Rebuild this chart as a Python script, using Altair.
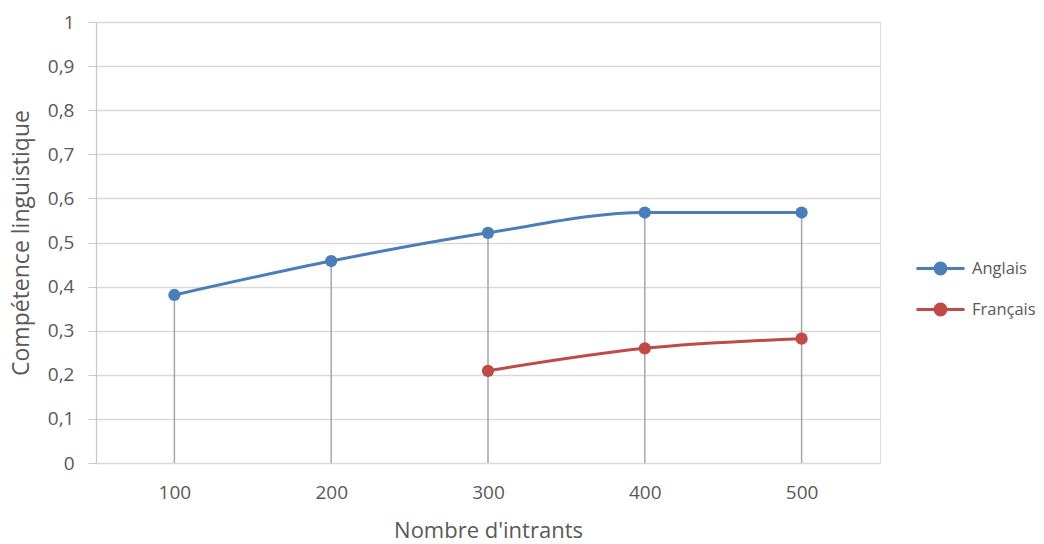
import altair as alt
import pandas as pd

categories = ["100", "200", "300", "400", "500"]
anglais = [0.381, 0.458, 0.522, 0.568, 0.568]
francais = [None, None, 0.209, 0.260, 0.282]
series_names = ["Anglais", "Français"]
colors = ["#4a7ebb", "#be4b48"]

rows = []
for c, a, f in zip(categories, anglais, francais):
    rows.append({"cat": c, "serie": "Anglais", "val": a})
    if f is not None:
        rows.append({"cat": c, "serie": "Français", "val": f})
df = pd.DataFrame(rows)
drop = pd.DataFrame({"cat": categories,
                     "top": [max(v for v in (a, f) if v is not None) for a, f in zip(anglais, francais)]})

FONT = "Open Sans"
LBL = 19
TTL = 22
xscale = alt.Scale(type="point", padding=0.5, domain=categories)
yscale = alt.Scale(domain=[0, 1])

x_enc = alt.X("cat:O", scale=xscale, sort=categories,
              axis=alt.Axis(title="Nombre d'intrants", labelAngle=0, ticks=False, domain=False,
                            grid=False, labelPadding=20, titlePadding=18,
                            labelFont=FONT, titleFont=FONT, labelFontSize=LBL, titleFontSize=TTL,
                            labelColor="#595959", titleColor="#595959", titleFontWeight="normal"))
y_axis = alt.Axis(title="Compétence linguistique", values=[i / 10 for i in range(11)],
                  labelExpr="replace(format(datum.value, '.1~f'), '.', ',')",
                  tickSize=8, tickColor="#c8c8c8", domainColor="#c8c8c8", domainWidth=1.3,
                  gridColor="#d9d9d9", gridWidth=1.3, labelPadding=14, titlePadding=14,
                  labelFont=FONT, titleFont=FONT, labelFontSize=LBL, titleFontSize=23,
                  labelColor="#595959", titleColor="#595959", titleFontWeight="normal")

rules = alt.Chart(drop).mark_rule(color="#a6a6a6", strokeWidth=1.5).encode(
    x=x_enc,
    y=alt.Y("top:Q", scale=yscale, axis=y_axis),
    y2=alt.datum(0),
)

color = alt.Color("serie:N", scale=alt.Scale(domain=series_names, range=colors),
                  legend=alt.Legend(title=None, orient="none", legendX=828, legendY=230,
                                    symbolType="M -1.6 0 L 1.6 0 M -0.36 0 A 0.36 0.36 0 1 1 0.36 0 A 0.36 0.36 0 1 1 -0.36 0",
                                    symbolSize=900, symbolStrokeWidth=3, rowPadding=13,
                                    labelOffset=15, padding=0, labelFont=FONT, labelFontSize=16.5,
                                    labelColor="#595959"))

lines = alt.Chart(df).mark_line(strokeWidth=3, interpolate="monotone").encode(
    x=x_enc, y=alt.Y("val:Q", scale=yscale), color=color)
points = alt.Chart(df).mark_point(filled=True, size=150, opacity=1).encode(
    x=x_enc, y=alt.Y("val:Q", scale=yscale), color=color)

chart = alt.layer(rules, lines, points).properties(
    width=784, height=441,
    autosize=alt.AutoSizeParams(type="none"),
    padding={"left": 96, "top": 22, "right": 164, "bottom": 81},
).configure_view(stroke=None).configure(background="white")

chart.save("out.html", embed_options={"renderer": "svg", "actions": False})
